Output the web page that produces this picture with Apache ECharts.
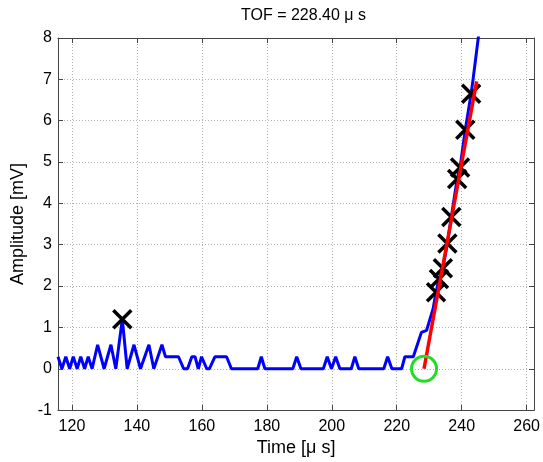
<!DOCTYPE html>
<html><head><meta charset="utf-8">
<script src="https://cdn.jsdelivr.net/npm/echarts@6/dist/echarts.min.js"></script>
<style>html,body{margin:0;padding:0;background:#fff}#c{width:543px;height:462px}</style>
</head><body><div id="c"></div>
<script>
// Signal (blue)
const timeUs = [115.7,116.9,118.1,119.3,120.4,121.6,122.7,123.9,125.0,126.2,127.9,129.9,132.0,133.5,135.5,137.0,139.1,141.1,143.7,145.2,147.7,148.8,152.8,154.4,155.6,156.9,157.9,158.9,159.9,161.5,162.3,164.0,167.6,169.1,177.2,178.3,179.4,188.0,189.2,190.5,197.4,198.6,199.9,201.2,202.5,206.0,207.1,208.3,216.0,217.2,218.5,221.5,222.5,225.1,227.6,229.2,231.2,232.1,233.0,234.2,235.6,236.8,238.6,239.5,241.1,242.9,243.5,245.1,246.0];
const amplitudeMv = [0.29,0,0.29,0,0.29,0,0.29,0,0.29,0,0.58,0,0.58,0,1.2,0,0.58,0,0.58,0,0.58,0.29,0.29,0,0,0.29,0.29,0,0.29,0,0,0.29,0.29,0,0,0.29,0,0,0.29,0,0,0.29,0,0.29,0,0,0.29,0,0,0.29,0,0,0.29,0.29,0.88,0.93,1.45,1.85,2.17,2.43,3.03,3.67,4.59,4.87,5.78,6.65,7.0,8.0,8.6];
// Selected points (black X)
const markerTimes = [135.5,232.1,233.0,234.2,235.6,236.8,238.6,239.5,241.1,242.9];
const markerAmps = [1.2,1.85,2.17,2.43,3.03,3.67,4.59,4.87,5.78,6.65];
// Linear fit (red)
const fitTimes = [228.4,244.6];
const fitAmps = [0,6.95];
// TOF point (green circle)
const tofTimes = [228.4];
const tofAmps = [0];
// Axes
const xTickValues = [120,140,160,180,200,220,240,260];
const xMin = 115.7, xMax = 262.3;
const yMin = -1, yMax = 8, yStep = 1;

const pair = (xs, ys) => xs.map((x, i) => [x, ys[i]]);
const font = 'Arial, "Liberation Sans", Helvetica, sans-serif';
const axisColor = '#444';
const gridLine = {show:true, lineStyle:{color:'#b0b0b0', type:[1,2], width:1}};

const chart = echarts.init(document.getElementById('c'), null, {renderer:'canvas'});
chart.setOption({
  animation:false,
  backgroundColor:'#fff',
  textStyle:{fontFamily:font},
  title:{text:'TOF = 228.40 μ s', left:236, top:3,
    textStyle:{fontSize:16, fontWeight:'normal', color:'#000', fontFamily:font}},
  grid:{left:58, right:5, top:38, bottom:46},
  xAxis:[
    {type:'value', min:xMin, max:xMax, position:'bottom',
     name:'Time [μ s]', nameLocation:'middle', nameGap:25,
     nameTextStyle:{fontSize:18, color:'#000', fontFamily:font},
     axisLine:{show:true, onZero:false, lineStyle:{color:axisColor, width:1}},
     axisTick:{show:true, inside:true, length:5, customValues:xTickValues, lineStyle:{color:axisColor}},
     axisLabel:{customValues:xTickValues, fontSize:16, color:'#000', margin:8, fontFamily:font},
     splitLine:gridLine},
    {type:'value', min:xMin, max:xMax, position:'top',
     axisLine:{show:true, onZero:false, lineStyle:{color:axisColor, width:1}},
     axisTick:{show:true, inside:true, length:5, customValues:xTickValues, lineStyle:{color:axisColor}},
     axisLabel:{show:false}, splitLine:{show:false}}
  ],
  yAxis:[
    {type:'value', min:yMin, max:yMax, interval:yStep, position:'left',
     name:'Amplitude [mV]', nameLocation:'middle', nameGap:27, nameRotate:90,
     nameTextStyle:{fontSize:18, color:'#000', fontFamily:font},
     axisLine:{show:true, onZero:false, lineStyle:{color:axisColor, width:1}},
     axisTick:{show:true, inside:true, length:5, lineStyle:{color:axisColor}},
     axisLabel:{fontSize:16, color:'#000', margin:6, fontFamily:font},
     splitLine:gridLine},
    {type:'value', min:yMin, max:yMax, interval:yStep, position:'right',
     axisLine:{show:true, onZero:false, lineStyle:{color:axisColor, width:1}},
     axisTick:{show:true, inside:true, length:5, lineStyle:{color:axisColor}},
     axisLabel:{show:false}, splitLine:{show:false}}
  ],
  series:[
    {type:'line', data:pair(timeUs, amplitudeMv), showSymbol:false, symbol:'none',
     lineStyle:{color:'#0000ff', width:3}, z:2, clip:true},
    {type:'scatter', data:pair(markerTimes, markerAmps),
     symbol:'path://M0,0L10,10M10,0L0,10', symbolSize:18,
     itemStyle:{color:'rgba(0,0,0,0)', borderColor:'#000', borderWidth:3.5, opacity:1}, z:3},
    {type:'line', data:pair(fitTimes, fitAmps), showSymbol:false, symbol:'none',
     lineStyle:{color:'#ff0000', width:3.5}, z:4},
    {type:'scatter', data:pair(tofTimes, tofAmps), symbol:'circle', symbolSize:25,
     itemStyle:{color:'rgba(0,0,0,0)', borderColor:'#22dd22', borderWidth:3, opacity:1}, z:5}
  ]
});
</script></body></html>
